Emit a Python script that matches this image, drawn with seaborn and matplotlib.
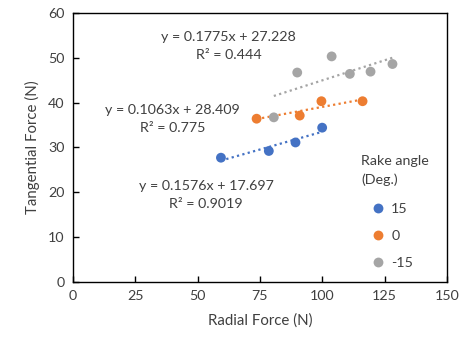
import numpy as np
import pandas as pd
import matplotlib
matplotlib.use("Agg")
import matplotlib.pyplot as plt
import seaborn as sns

# Data
radial_15 = [59.4, 78.6, 89.3, 100.0]
tang_15 = [27.7, 29.2, 31.1, 34.4]
radial_0 = [73.7, 91.0, 99.7, 116.2]
tang_0 = [36.4, 37.1, 40.3, 40.3]
radial_m15 = [80.6, 90.0, 103.8, 111.1, 119.4, 128.2]
tang_m15 = [36.7, 46.7, 50.3, 46.4, 46.9, 48.6]
groups = ["15", "0", "-15"]
colors = {"15": "#4472C4", "0": "#ED7D31", "-15": "#A5A5A5"}
eq_texts = {
    "-15": ("y = 0.1775x + 27.228", "R² = 0.444"),
    "0": ("y = 0.1063x + 28.409", "R² = 0.775"),
    "15": ("y = 0.1576x + 17.697", "R² = 0.9019"),
}
eq_pos = {"-15": (62.5, 54.6, 50.6), "0": (40, 38.4, 34.4), "15": (53.5, 21.4, 17.4)}

df = pd.concat([
    pd.DataFrame({"Radial Force (N)": radial_15, "Tangential Force (N)": tang_15, "Rake angle": "15"}),
    pd.DataFrame({"Radial Force (N)": radial_0, "Tangential Force (N)": tang_0, "Rake angle": "0"}),
    pd.DataFrame({"Radial Force (N)": radial_m15, "Tangential Force (N)": tang_m15, "Rake angle": "-15"}),
], ignore_index=True)

sns.set_theme(style="white")
plt.rcParams["font.family"] = ["Lato", "DejaVu Sans"]

FS = 10.3
TXT = "#404040"

fig = plt.figure(figsize=(4.64, 3.4), dpi=100)
ax = fig.add_axes([0.157, 0.171, 0.806, 0.791])

for g in groups:
    sub = df[df["Rake angle"] == g]
    sns.regplot(data=sub, x="Radial Force (N)", y="Tangential Force (N)", ax=ax,
                scatter=False, ci=None, truncate=True, color=colors[g],
                line_kws=dict(ls=(0, (1, 1.5)), lw=1.6))

sns.scatterplot(data=df, x="Radial Force (N)", y="Tangential Force (N)", hue="Rake angle",
                hue_order=groups, palette=colors, s=50, edgecolor="none", ax=ax, zorder=3)

for g in groups:
    x, y1, y2 = eq_pos[g]
    ax.text(x, y1, eq_texts[g][0], ha="center", va="center", fontsize=FS, color=TXT)
    ax.text(x, y2, eq_texts[g][1], ha="center", va="center", fontsize=FS, color=TXT)

ax.set_xlim(0, 150)
ax.set_ylim(0, 60)
ax.set_xticks([0, 25, 50, 75, 100, 125, 150])
ax.set_yticks([0, 10, 20, 30, 40, 50, 60])
ax.tick_params(axis="both", direction="in", length=4, width=1, color="black",
               labelsize=FS, labelcolor=TXT, bottom=True, left=True, pad=6)
for sp in ax.spines.values():
    sp.set_color("black")
    sp.set_linewidth(1.0)
ax.set_xlabel("Radial Force (N)", fontsize=FS + 0.5, color=TXT, labelpad=8)
ax.set_ylabel("Tangential Force (N)", fontsize=FS + 0.5, color=TXT, labelpad=6)

leg = ax.legend(title="Rake angle\n(Deg.)", loc="upper left", bbox_to_anchor=(0.771, 0.47),
                frameon=False, fontsize=FS, title_fontsize=FS, labelspacing=1.05,
                handlelength=2.4, handletextpad=-0.3, borderaxespad=0, borderpad=0,
                markerscale=1.0)
leg._legend_box.align = "left"
leg._legend_box.sep = 12
for t in leg.get_texts():
    t.set_color(TXT)
leg.get_title().set_color(TXT)
leg.get_title().set_linespacing(1.6)

fig.savefig("out.png", dpi=100)
